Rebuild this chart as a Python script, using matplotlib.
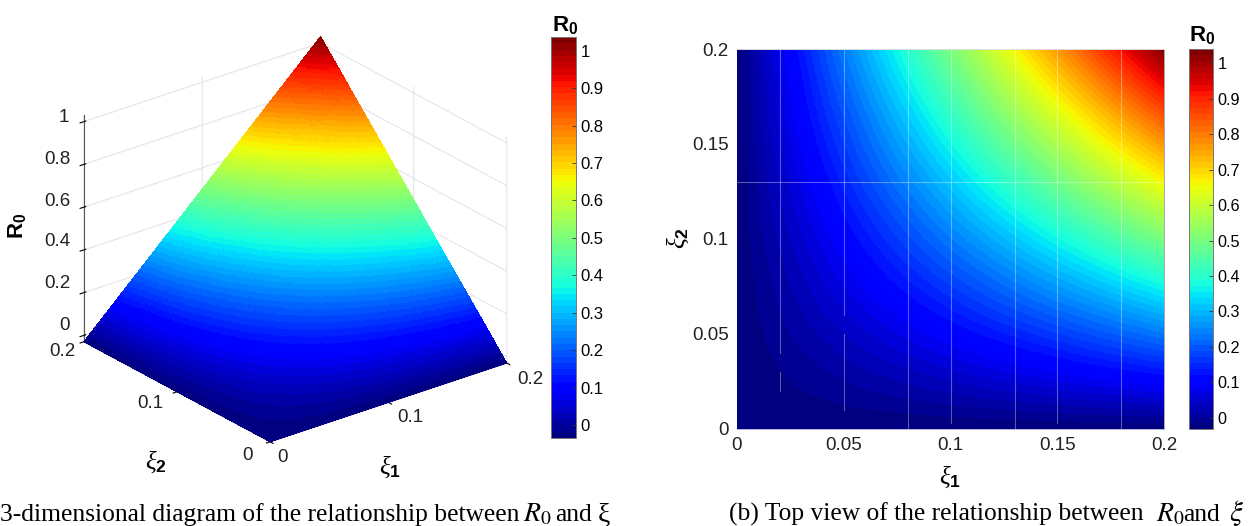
## Library Imports
import numpy as np
import matplotlib
matplotlib.use('Agg')
import matplotlib.pyplot as plt
import matplotlib.tri as mtri
from matplotlib.cm import ScalarMappable
from matplotlib.colors import Normalize

plt.rcParams['font.family'] = ['Liberation Sans', 'DejaVu Sans']
plt.rcParams['mathtext.fontset'] = 'custom'
plt.rcParams['mathtext.rm'] = 'Liberation Sans'
plt.rcParams['mathtext.bf'] = 'Liberation Sans:bold'
plt.rcParams['mathtext.it'] = 'Liberation Serif:italic'

## Values
xi_1 = [0.0, 0.02, 0.04, 0.06, 0.08, 0.10, 0.12, 0.14, 0.16, 0.18, 0.20]
xi_2 = [0.0, 0.02, 0.04, 0.06, 0.08, 0.10, 0.12, 0.14, 0.16, 0.18, 0.20]
R0_rows = [
	[-0.03, -0.030, -0.030, -0.030, -0.030, -0.030, -0.030, -0.030, -0.030, -0.030, -0.030],
	[-0.03, -0.019, -0.009, 0.002, 0.012, 0.023, 0.034, 0.044, 0.055, 0.065, 0.076],
	[-0.03, -0.009, 0.012, 0.034, 0.055, 0.076, 0.097, 0.118, 0.140, 0.161, 0.182],
	[-0.03, 0.002, 0.034, 0.065, 0.097, 0.129, 0.161, 0.193, 0.224, 0.256, 0.288],
	[-0.03, 0.012, 0.055, 0.097, 0.140, 0.182, 0.224, 0.267, 0.309, 0.352, 0.394],
	[-0.03, 0.023, 0.076, 0.129, 0.182, 0.235, 0.288, 0.341, 0.394, 0.447, 0.500],
	[-0.03, 0.034, 0.097, 0.161, 0.224, 0.288, 0.352, 0.415, 0.479, 0.542, 0.606],
	[-0.03, 0.044, 0.118, 0.193, 0.267, 0.341, 0.415, 0.489, 0.564, 0.638, 0.712],
	[-0.03, 0.055, 0.140, 0.224, 0.309, 0.394, 0.479, 0.564, 0.648, 0.733, 0.818],
	[-0.03, 0.065, 0.161, 0.256, 0.352, 0.447, 0.542, 0.638, 0.733, 0.829, 0.924],
	[-0.03, 0.076, 0.182, 0.288, 0.394, 0.500, 0.606, 0.712, 0.818, 0.924, 1.030],
]
cbar_ticks = [0, 0.1, 0.2, 0.3, 0.4, 0.5, 0.6, 0.7, 0.8, 0.9, 1]
cbar_labels = ['0', '0.1', '0.2', '0.3', '0.4', '0.5', '0.6', '0.7', '0.8', '0.9', '1']
top_ticks = [0, 0.05, 0.1, 0.15, 0.2]
top_labels = ['0', '0.05', '0.1', '0.15', '0.2']
## faint mesh seams in the top view: (xi_1, xi_2 from, xi_2 to)
seams_x = [(0.02, 0.04, 0.2), (0.02, 0.02, 0.03), (0.05, 0.06, 0.2), (0.05, 0.01, 0.05),
	(0.08, 0.0, 0.2), (0.1, 0.003, 0.2), (0.13, 0.0, 0.2), (0.15, 0.003, 0.2), (0.18, 0.0, 0.2)]
seam_y = 0.13

W, H = 1248, 526
fig = plt.figure(figsize=(W/100, H/100), dpi=100)

def px_axes(x0, y0, x1, y1, **kw):
	return fig.add_axes([x0/W, 1-y1/H, (x1-x0)/W, (y1-y0)/H], **kw)

## Refine the read table for drawing
X, Y = np.meshgrid(xi_1, xi_2)
tri = mtri.Triangulation(X.ravel(), Y.ravel())
fine_tri, fine_z = mtri.UniformTriRefiner(tri).refine_field(np.array(R0_rows).ravel(), subdiv=4)
jet64 = plt.get_cmap('jet', 64)

## 3D view
vmin3, vmax3 = -0.035, 1.037
ax3 = px_axes(39, 10.5, 539, 480.5, projection='3d', proj_type='ortho')
ax3.view_init(elev=25, azim=-128.2)
ax3.set_box_aspect((1, 1, 0.83), zoom=1.02)
ax3.plot_trisurf(fine_tri, fine_z, cmap=jet64, vmin=vmin3, vmax=vmax3, linewidth=0, antialiased=False, shade=False)
ax3.set_xlim(0, 0.2)
ax3.set_ylim(0, 0.2)
ax3.set_zlim(-0.03, 1.03)
ax3.set_xticks([0, 0.1, 0.2], ['', '', ''])
ax3.set_yticks([0, 0.1, 0.2], ['', '', ''])
ax3.set_zticks([0, 0.2, 0.4, 0.6, 0.8, 1], ['', '', '', '', '', ''])
ax3.patch.set_alpha(0)
for axis in (ax3.xaxis, ax3.yaxis, ax3.zaxis):
	axis.set_pane_color((1, 1, 1, 0))
	axis.pane.set_edgecolor((1, 1, 1, 0))
	axis.line.set_color('#555555')
	axis.line.set_linewidth(0.8)
	axis._axinfo['grid']['color'] = '#e2e2e2'
	axis._axinfo['grid']['linewidth'] = 0.7
	axis._axinfo['tick']['color'] = '#555555'

## colorbars
def add_cbar(x0, y0, x1, y1, vmin, vmax, size):
	cax = px_axes(x0, y0, x1, y1)
	cb = fig.colorbar(ScalarMappable(Normalize(vmin, vmax), jet64), cax=cax)
	cb.set_ticks(cbar_ticks, labels=cbar_labels)
	cax.tick_params(direction='in', length=3, width=0.6, color='#333333', labelsize=size, pad=3.5)
	cb.outline.set_edgecolor('#777777')
	cb.outline.set_linewidth(0.7)
	return cb

add_cbar(551, 37, 576, 438, vmin3, vmax3, 12)
add_cbar(1189, 49, 1213, 428.5, -0.03, 1.04, 11.7)

## Top view
ax2 = px_axes(737, 49, 1164, 428.5)
ax2.tricontourf(fine_tri, fine_z, levels=np.linspace(-0.03, 1.04, 65), cmap=jet64, vmin=-0.03, vmax=1.04, extend='both')
for sx, y_from, y_to in seams_x:
	ax2.plot([sx, sx], [y_from, y_to], color='white', lw=0.8, alpha=0.35)
ax2.axhline(seam_y, color='white', lw=0.8, alpha=0.35)
ax2.set_xlim(0, 0.2)
ax2.set_ylim(0, 0.2)
ax2.set_xticks(top_ticks, top_labels)
ax2.set_yticks(top_ticks, top_labels)
ax2.tick_params(length=0, labelsize=13.5, colors='#222222', pad=6)
ax2.spines['left'].set_visible(False)
ax2.spines['top'].set_color('#dddddd')
ax2.spines['bottom'].set_color('#b4b4d8')
ax2.spines['right'].set_color('#aaaaaa')
for s in ax2.spines.values():
	s.set_linewidth(0.7)

## Labels
def label(x, y, s, size=15, rot=0, color='black'):
	fig.text(x/W, 1-y/H, s, fontsize=size, rotation=rot, ha='center', va='center', color=color)

## tick labels of the 3D box, set by hand since mplot3d pushes them too far out
label(282, 457, '0', 13.5, color='#222222')
label(410, 418, '0.1', 13.5, color='#222222')
label(530, 379, '0.2', 13.5, color='#222222')
label(248, 455, '0', 13.5, color='#222222')
label(150, 404, '0.1', 13.5, color='#222222')
label(62, 351, '0.2', 13.5, color='#222222')
label(64, 117, '1', 13.5, color='#222222')
label(57, 159, '0.8', 13.5, color='#222222')
label(57, 201, '0.6', 13.5, color='#222222')
label(57, 242, '0.4', 13.5, color='#222222')
label(57, 284, '0.2', 13.5, color='#222222')
label(65, 325, '0', 13.5, color='#222222')

xi1_s = r'$\xi_{\mathbf{1}}$'
xi2_s = r'$\xi_{\mathbf{2}}$'
R0_s = r'$\mathbf{R_0}$'
label(18, 226, R0_s, 16, 90)
label(156, 462, xi2_s, 18)
label(390, 467, xi1_s, 18)
label(950, 477, xi1_s, 18)
label(678, 238, xi2_s, 18, 90)
label(565, 26, R0_s, 16)
label(1202, 36, R0_s, 16)

## Captions
def caption(x, s, size=18.35):
	fig.text(x/W, 1-521/H, s, family='Liberation Serif', fontsize=size, ha='left', va='baseline', math_fontfamily='stix')

caption(0.5, '3-dimensional diagram of the relationship between')
caption(523, r'$R_0$', 20)
caption(555, 'and')
caption(598, '\u03be', 20)
caption(729, '(b) Top view of the relationship between')
caption(1156, r'$R_0$', 20)
caption(1183, 'and')
caption(1229, r'$\xi$', 21)

fig.savefig('out.png', dpi=100)
